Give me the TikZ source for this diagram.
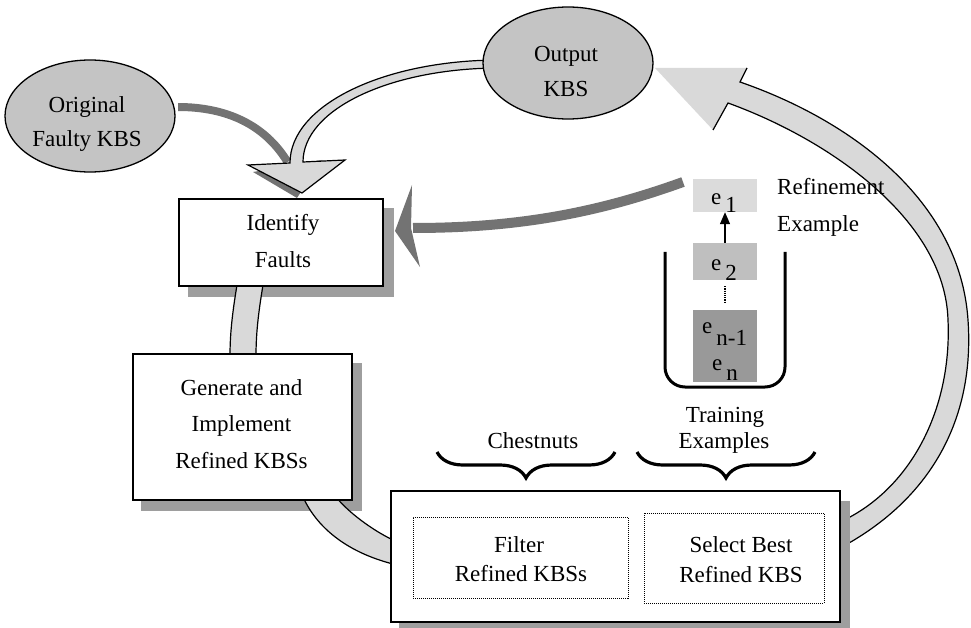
\documentclass[tikz,border=0pt]{standalone}
\usepackage{fontspec}
\setmainfont{Liberation Serif}
\usetikzlibrary{shapes.geometric,decorations.pathreplacing,arrows.meta}

\definecolor{ovalgray}{gray}{0.77}
\definecolor{bandgray}{gray}{0.85}
\definecolor{shadegray}{gray}{0.62}
\definecolor{darkarrow}{gray}{0.45}
\definecolor{eone}{gray}{0.86}
\definecolor{etwo}{gray}{0.75}
\definecolor{elast}{gray}{0.6}

\begin{document}
\begin{tikzpicture}[x=1pt,y=-1pt,
  lbl/.style={font=\fontsize{23}{28}\selectfont, inner sep=0pt, anchor=base},
  lblw/.style={lbl, anchor=base west},
  oval/.style={ellipse, draw, line width=1.3pt, fill=ovalgray,
               minimum width=170pt, minimum height=112pt, inner sep=0pt},
  procbox/.style={draw, line width=1.3pt, fill=white, inner sep=0pt},
  dropshadow/.style={fill=shadegray},
  band/.style={fill=bandgray, draw=black, line width=1.2pt, line join=miter},
  bandfill/.style={fill=bandgray},
  bandline/.style={draw=black, line width=1.2pt},
  dotbox/.style={draw, densely dotted, line width=1pt, inner sep=0pt},
  darkfill/.style={fill=darkarrow},
  brc/.style={decorate, decoration={brace, amplitude=26pt}, line width=3.2pt},
  chip/.style={inner sep=0pt, minimum width=64pt}
]
\useasboundingbox (0,0) rectangle (971,628);
\clip (0,0) rectangle (971,628);

% ---- loop back: from the selection box round to the output KBS
\fill[bandfill] (840,548) .. controls (930,500) and (975,420) .. (968,320)
   .. controls (960,200) and (850,120) .. (740,82) -- (747,68) -- (655,68)
   -- (713,130) -- (728,103) .. controls (830,140) and (945,220) .. (948,320)
   .. controls (952,410) and (910,490) .. (840,522) -- cycle;
\draw[bandline] (840,548) .. controls (930,500) and (975,420) .. (968,320)
   .. controls (960,200) and (850,120) .. (740,82) -- (747,68);
\draw[bandline] (713,130) -- (728,103) .. controls (830,140) and (945,220) .. (948,320)
   .. controls (952,410) and (910,490) .. (840,522);

% ---- process boxes with their drop shadows
\node[procbox, minimum width=204pt, minimum height=87pt] (ident) at (281,242.5) {};
\node[procbox, minimum width=219pt, minimum height=146pt] (gen) at (242.5,427) {};
\node[procbox, minimum width=449pt, minimum height=131pt] (big) at (615.5,556.5) {};

\fill[dropshadow] ([shift={(10,10)}]ident.south west) rectangle ([shift={(10,10)}]ident.north east);
\fill[dropshadow] ([shift={(9,10)}]gen.south west) rectangle ([shift={(9,10)}]gen.north east);
\fill[dropshadow] ([shift={(9,11)}]big.south west) rectangle ([shift={(9,11)}]big.north east);

% ---- hollow connectors between the process boxes
\fill[bandfill] (237,285) .. controls (232,315) and (230,335) .. (230,356)
   -- (256,356) .. controls (256,335) and (258,315) .. (263,285) -- cycle;
\draw[bandline] (237,285) .. controls (232,315) and (230,335) .. (230,356);
\draw[bandline] (263,285) .. controls (258,315) and (256,335) .. (256,356);

\fill[bandfill] (303,497) .. controls (318,530) and (350,553) .. (393,564)
   -- (393,540) .. controls (372,530) and (348,512) .. (336,497) -- cycle;
\draw[bandline] (303,497) .. controls (318,530) and (350,553) .. (393,564);
\draw[bandline] (336,497) .. controls (348,512) and (372,530) .. (393,540);

% redraw the boxes above the connectors
\node[procbox, minimum width=204pt, minimum height=87pt] at (ident) {};
\node[procbox, minimum width=219pt, minimum height=146pt] at (gen) {};
\node[procbox, minimum width=449pt, minimum height=131pt] at (big) {};

\node[dotbox, minimum width=215pt, minimum height=81pt] (filter) at (520.5,557.5) {};
\node[dotbox, minimum width=180pt, minimum height=90pt] (select) at (734,558) {};

% ---- dark arrow from the original KBS
\fill[darkfill] (178,103) .. controls (228,103) and (268,122) .. (291,160)
   -- (284,164) .. controls (262,128) and (226,111) .. (178,111) -- cycle;
\fill[darkfill] (253,172) -- (297,198) -- (322,160) -- cycle;

% ---- hollow arrow from the output KBS back to fault identification
\filldraw[band] (500,60) .. controls (384,60) and (290,105) .. (290,163)
   -- (248,165) -- (302,193) -- (345,160) -- (303,162)
   .. controls (303,109) and (391,68) .. (500,68) -- cycle;

% ---- ellipses
\node[oval] (orig) at (90,116) {};
\node[oval] (out) at (568,63) {};

% ---- dark arrow from the refinement example
\draw[darkarrow, line width=10pt] (413,228) .. controls (520,228) and (600,212) .. (683,182);
\fill[darkfill] (412,185) -- (395,231) -- (420,267) -- (411,228) -- cycle;

% ---- training example stack
\draw[line width=3pt, rounded corners=20pt] (665,252) -- (665,387) -- (785,387) -- (785,252);
\node[chip, fill=eone, minimum height=33pt] (e1box) at (725,195.5) {};
\node[chip, fill=etwo, minimum height=37pt] (e2box) at (725,261.5) {};
\node[chip, fill=elast, minimum height=72pt] (enbox) at (725,346) {};
\draw[-{Triangle[length=12pt,width=10pt]}, line width=1.3pt] (e2box.north) -- (e1box.south);
\draw[densely dotted, line width=1.2pt, shorten >=6pt, shorten <=6pt] (e2box.south) -- (enbox.north);

\node[lblw] (e1lbl) at (711,205) {e\hspace{4pt}\raisebox{-8pt}{1}};
\node[lblw] (e2lbl) at (711,270) {e\hspace{4pt}\raisebox{-10pt}{2}};
\node[lblw] (enmlbl) at (702,333) {e\hspace{4pt}\raisebox{-12pt}{n-1}};
\node[lblw] (enlbl) at (712,370) {e\hspace{4pt}\raisebox{-10pt}{n}};

% ---- braces
\draw[brc] (615,452) -- (437,452);
\draw[brc] (815,452) -- (637,452);

% ---- text
\node[lbl] (t1) at (87,113) {Original};
\node[lbl] (t2) at (87,147) {Faulty KBS};
\node[lbl] (t3) at (566,62) {Output};
\node[lbl] (t4) at (566,97) {KBS};
\node[lbl] (t5) at (283,231) {Identify};
\node[lbl] (t6) at (283,268) {Faults};
\node[lbl] (t7) at (241.5,395) {Generate and};
\node[lbl] (t8) at (241.5,431) {Implement};
\node[lbl] (t9) at (241.5,468) {Refined KBSs};
\node[lbl] (t10) at (519,552) {Filter};
\node[lbl] (t11) at (521,581) {Refined KBSs};
\node[lbl] (t12) at (741,552) {Select Best};
\node[lbl] (t13) at (741,582) {Refined KBS};
\node[lbl] (t14) at (533,448) {Chestnuts};
\node[lbl] (t15) at (725,422) {Training};
\node[lbl] (t16) at (724,448) {Examples};
\node[lblw] (t17) at (777,195) {Refinement};
\node[lblw] (t18) at (777,232) {Example};
\end{tikzpicture}
\end{document}
